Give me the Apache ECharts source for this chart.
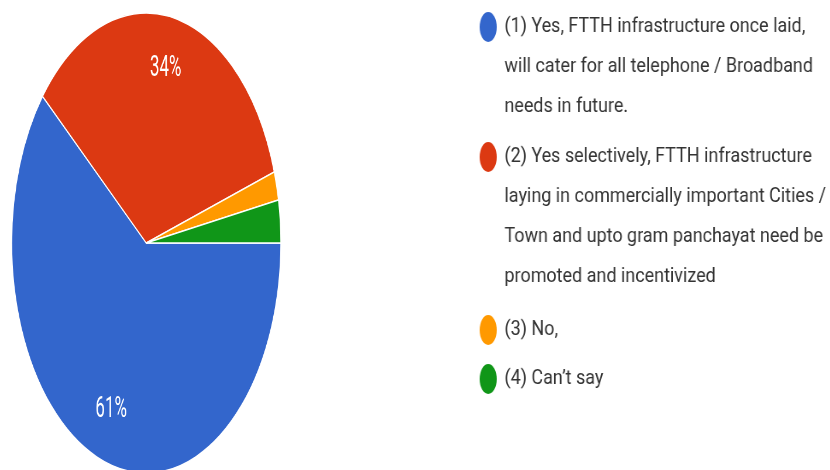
<!DOCTYPE html>
<html>
<head>
<meta charset="utf-8">
<script src="https://cdn.jsdelivr.net/npm/echarts@6/dist/echarts.min.js"></script>
<style>
  html, body { margin: 0; padding: 0; background: #fff; overflow: hidden; }
  #wrap { position: relative; width: 830px; height: 470px; overflow: hidden; }
  .layer { position: absolute; left: 0; top: 0; transform-origin: 0 0; }
</style>
</head>
<body>
<div id="wrap"><div id="pie" class="layer"></div><div id="key" class="layer"></div></div>
<script>
// Survey answers and their share of responses (%)
const categories = [
  '(1) Yes, FTTH infrastructure once laid,\nwill cater for all telephone / Broadband\nneeds in future.',
  '(2) Yes selectively, FTTH infrastructure\nlaying in commercially important Cities /\nTown and upto gram panchayat need be\npromoted and incentivized',
  '(3) No,',
  '(4) Can\u2019t say'
];
const shares = [61, 34, 2, 3];
const colors = ['#3366cc', '#dc3912', '#ff9900', '#109618'];

// Each layer is laid out on a wider canvas and squeezed horizontally.
function layer(id, sx) {
  const el = document.getElementById(id);
  el.style.width = Math.round(830 / sx) + 'px';
  el.style.height = '470px';
  el.style.transform = 'scale(' + sx + ',1)';
  return echarts.init(el, null, { renderer: 'canvas' });
}

// ---- pie ----
const CX = 250, CY = 243, R = 230;
const pie = layer('pie', 0.585);
pie.setOption({
  animation: false,
  color: colors,
  series: [{
    type: 'pie',
    center: [CX, CY],
    radius: R,
    startAngle: 0,
    clockwise: true,
    avoidLabelOverlap: false,
    itemStyle: { borderColor: '#fff', borderWidth: 1.5 },
    label: {
      position: 'inside',
      formatter: '{d}%',
      color: '#fff',
      fontFamily: 'Roboto',
      fontSize: 29
    },
    labelLine: { show: false },
    // push the inside labels further out along their radius
    labelLayout: (p) => {
      const r = p.labelRect;
      const lx = r.x + r.width / 2, ly = r.y + r.height / 2;
      const k = 0.75 / 0.5 - 1;
      return { dx: (lx - CX) * k, dy: (ly - CY) * k };
    },
    data: categories.map((name, i) => ({
      name,
      value: shares[i],
      label: { show: shares[i] >= 5 }
    }))
  }]
});

// ---- legend ----
const LH = 40;
const iconY = [27, 157, 330, 379];
const DOT = 'path://M0,50A50,50,0,1,1,100,50A50,50,0,1,1,0,50Z';
const key = layer('key', 0.855);
key.setOption({
  animation: false,
  color: colors,
  legend: categories.map((name, i) => {
    const n = name.split('\n').length;
    return {
      data: [{ name, icon: DOT, symbolKeepAspect: false }],
      orient: 'vertical',
      left: 561,
      top: iconY[i] - (2 * n - 1) * LH / 2,
      padding: 0,
      icon: DOT,
      itemWidth: 20,
      itemHeight: 30,
      symbolKeepAspect: false,
      selectedMode: false,
      // blank lines above keep the marker level with the first text line
      formatter: (s) => '\n'.repeat(n - 1) + s,
      textStyle: {
        fontFamily: 'Roboto',
        fontSize: 21,
        lineHeight: LH,
        color: '#333',
        padding: [0, 0, 0, 4]
      }
    };
  }),
  series: [{
    type: 'pie',
    radius: 0,
    silent: true,
    symbolKeepAspect: false,
    label: { show: false },
    labelLine: { show: false },
    data: categories.map((name, i) => ({ name, value: shares[i] }))
  }]
});
</script>
</body>
</html>
